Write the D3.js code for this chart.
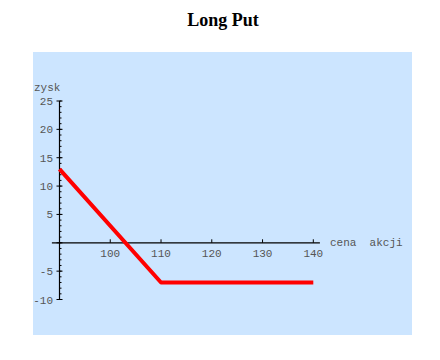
<!DOCTYPE html>
<html lang="en">
<head>
<meta charset="UTF-8">
<title>Long Put</title>
<script src="https://d3js.org/d3.v7.min.js"></script>
<style>
  body { margin: 0; background: #fff; }
  svg text { font-family: "Liberation Mono", "DejaVu Sans Mono", monospace; fill: #555; font-size: 11px; }
  svg .title { font-family: "Liberation Serif", "Times New Roman", serif; font-weight: bold; font-size: 18px; fill: #000; }
</style>
</head>
<body>
<div id="chart"></div>
<script>
// payoff of the long put (strike 110, premium 7)
var prices = [90, 110, 140];
var profits = [13, -7, -7];
var xTicks = [100, 110, 120, 130, 140];
var yTicks = [-10, -5, 5, 10, 15, 20, 25];

var width = 440, height = 360;

var svg = d3.select("#chart").append("svg")
    .attr("width", width)
    .attr("height", height);

svg.append("text")
    .attr("class", "title")
    .attr("x", 223)
    .attr("y", 26)
    .attr("text-anchor", "middle")
    .text("Long Put");

svg.append("rect")
    .attr("x", 33).attr("y", 52)
    .attr("width", 379).attr("height", 283)
    .attr("fill", "#cce5ff");

var x = d3.scaleLinear().domain([90, 140]).range([59.5, 313.3]);
var y = d3.scaleLinear().domain([-10, 25]).range([299.5, 101]);

// x axis
svg.append("line")
    .attr("x1", x(88.5)).attr("x2", x(141.3))
    .attr("y1", y(0)).attr("y2", y(0))
    .attr("stroke", "#000").attr("stroke-width", 1.2);

svg.selectAll(".xtick").data(xTicks).enter().append("line")
    .attr("x1", d => x(d)).attr("x2", d => x(d))
    .attr("y1", y(0)).attr("y2", y(0) - 3.5)
    .attr("stroke", "#000");

svg.selectAll(".xlab").data(xTicks).enter().append("text")
    .attr("x", d => x(d))
    .attr("y", y(0) + 14)
    .attr("text-anchor", "middle")
    .text(d => d);

// y axis
svg.append("line")
    .attr("x1", x(90)).attr("x2", x(90))
    .attr("y1", y(25)).attr("y2", y(-10))
    .attr("stroke", "#000").attr("stroke-width", 1.2);

svg.selectAll(".ymin").data(d3.range(-10, 26)).enter().append("line")
    .attr("x1", x(90)).attr("x2", x(90) + 2)
    .attr("y1", d => y(d)).attr("y2", d => y(d))
    .attr("stroke", "#000");

svg.selectAll(".ytick").data(yTicks.concat([0])).enter().append("line")
    .attr("x1", x(90) - 3).attr("x2", x(90) + 3)
    .attr("y1", d => y(d)).attr("y2", d => y(d))
    .attr("stroke", "#000");

svg.selectAll(".ylab").data(yTicks).enter().append("text")
    .attr("x", 53)
    .attr("y", d => y(d) + 4)
    .attr("text-anchor", "end")
    .text(d => d < 0 ? "-" + Math.abs(d) : d);

svg.append("text")
    .attr("x", 34).attr("y", 91)
    .text("zysk");

svg.append("text")
    .attr("x", 330).attr("y", 246)
    .attr("xml:space", "preserve")
    .style("white-space", "pre")
    .text("cena  akcji");

// payoff line
var pts = prices.map((p, i) => [p, profits[i]]);
svg.append("path")
    .datum(pts)
    .attr("d", d3.line().x(d => x(d[0])).y(d => y(d[1])))
    .attr("fill", "none")
    .attr("stroke", "#ff0000")
    .attr("stroke-width", 4)
    .attr("stroke-linejoin", "round");
</script>
</body>
</html>
